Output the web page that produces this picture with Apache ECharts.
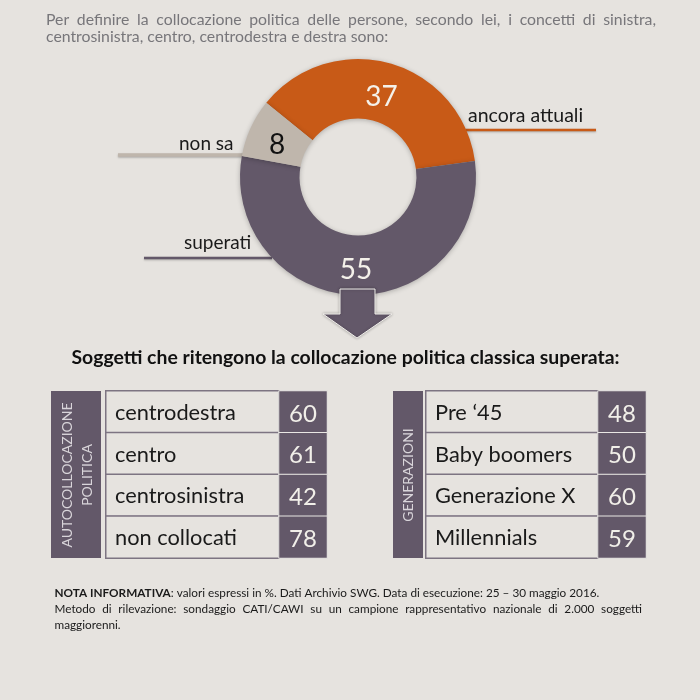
<!DOCTYPE html>
<html>
<head>
<meta charset="utf-8">
<script src="https://cdn.jsdelivr.net/npm/echarts@6/dist/echarts.min.js"></script>
<style>
html, body { margin: 0; padding: 0; background: #e6e3df; }
#main { width: 700px; height: 700px; }
</style>
</head>
<body>
<div id="main"></div>
<script>
// dati
var pieNames = ['ancora attuali', 'superati', 'non sa'];
var pieValues = [37, 55, 8];
var autoNames = ['centrodestra', 'centro', 'centrosinistra', 'non collocati'];
var autoValues = [60, 61, 42, 78];
var genNames = ['Pre ‘45', 'Baby boomers', 'Generazione X', 'Millennials'];
var genValues = [48, 50, 60, 59];
var questionLines = ['Per definire la collocazione politica delle persone, secondo lei, i concetti di sinistra,', 'centrosinistra, centro, centrodestra e destra sono:'];
var headline = 'Soggetti che ritengono la collocazione politica classica superata:';

var BG = '#e6e3df', ORANGE = '#c85a17', PURPLE = '#635869', TAUPE = '#bfb6ac', FONT = 'Lato';

var myChart = echarts.init(document.getElementById('main'));
var ctx = document.createElement('canvas').getContext('2d');

function txt(s, x, y, size, color, extra) {
    var style = { text: s, x: 0, y: 0, fill: color, fontFamily: FONT, fontSize: size, textVerticalAlign: 'middle', textAlign: 'left' };
    var el = { type: 'text', x: x, y: y, style: style, z: 20 };
    for (var k in extra) {
        if (k === 'rotation') el.rotation = extra[k]; else style[k] = extra[k];
    }
    return el;
}

// riga giustificata: una parola alla volta
function justified(s, x0, x1, y, size, color) {
    var words = s.split(' '), out = [];
    ctx.font = size + 'px ' + FONT;
    var total = 0;
    words.forEach(function (w) { total += ctx.measureText(w).width; });
    var gap = (x1 - x0 - total) / (words.length - 1), x = x0;
    words.forEach(function (w) {
        out.push(txt(w, x, y, size, color));
        x += ctx.measureText(w).width + gap;
    });
    return out;
}

function leader(x1, x2, y, color, w) {
    return { type: 'line', shape: { x1: x1, y1: y, x2: x2, y2: y }, style: { stroke: color, lineWidth: w, shadowBlur: 2, shadowColor: 'rgba(0,0,0,0.25)', shadowOffsetY: 1 }, z: 1 };
}

var graphic = [];
graphic = graphic.concat(justified(questionLines[0], 46, 656, 20, 15.8, '#77767a'));
graphic.push(txt(questionLines[1], 46, 37, 15.8, '#77767a'));

graphic.push(leader(466, 596, 130, ORANGE, 2.5));
graphic.push(leader(118, 243, 155, TAUPE, 3.5));
graphic.push(leader(144, 272, 258, PURPLE, 2.5));
graphic.push(txt(pieNames[0], 468, 116, 19.5, '#1a1a1a'));
graphic.push(txt(pieNames[2], 179, 144, 19, '#1a1a1a'));
graphic.push(txt(pieNames[1], 184, 243, 19, '#1a1a1a'));

// freccia sotto la ciambella
graphic.push({
    type: 'polygon', z: 10,
    shape: { points: [[340, 289], [375, 289], [375, 314], [392, 314], [357, 338], [323, 314], [340, 314]] },
    style: { fill: PURPLE, stroke: '#f2f0ec', lineWidth: 1, shadowBlur: 3, shadowColor: 'rgba(0,0,0,0.3)' }
});

graphic.push(txt(headline, 345.5, 358, 19.4, '#111', { fontWeight: 'bold', textAlign: 'center' }));

// bande laterali
graphic.push({ type: 'rect', shape: { x: 51, y: 391, width: 50, height: 167 }, style: { fill: PURPLE }, z: 5 });
graphic.push({ type: 'rect', shape: { x: 393, y: 391, width: 30, height: 167 }, style: { fill: PURPLE }, z: 5 });
graphic.push(txt('AUTOCOLLOCAZIONE', 67, 475, 14, '#d9d5da', { rotation: Math.PI / 2, textAlign: 'center' }));
graphic.push(txt('POLITICA', 87, 475, 14, '#d9d5da', { rotation: Math.PI / 2, textAlign: 'center' }));
graphic.push(txt('GENERAZIONI', 408, 475, 14, '#d9d5da', { rotation: Math.PI / 2, textAlign: 'center' }));

// nota
graphic.push(txt('NOTA INFORMATIVA', 54.5, 593, 11.75, '#1a1a1a', { fontWeight: 'bold' }));
ctx.font = 'bold 11.75px ' + FONT;
graphic.push(txt(': valori espressi in %. Dati Archivio SWG. Data di esecuzione: 25 – 30 maggio 2016.', 54.5 + ctx.measureText('NOTA INFORMATIVA').width, 593, 11.75, '#1a1a1a'));
graphic = graphic.concat(justified('Metodo di rilevazione: sondaggio CATI/CAWI su un campione rappresentativo nazionale di 2.000 soggetti', 54.5, 642, 609, 11.75, '#1a1a1a'));
graphic.push(txt('maggiorenni.', 54.5, 625, 11.75, '#1a1a1a'));

// griglie delle tabelle: 0/1 sinistra, 2/3 destra
var grids = [
    { left: 106, width: 173, top: 391, height: 167 },
    { left: 279, width: 48, top: 391, height: 167 },
    { left: 426, width: 172, top: 391, height: 167 },
    { left: 598, width: 48, top: 391, height: 167 }
];
var xAxes = grids.map(function (g, i) {
    return { type: 'category', gridIndex: i, data: [''], show: false };
});
var yAxes = grids.map(function (g, i) {
    return { type: 'category', gridIndex: i, data: i < 2 ? autoNames : genNames, inverse: true, show: false };
});

function nameCells(names, values, idx) {
    return {
        type: 'heatmap', xAxisIndex: idx, yAxisIndex: idx,
        data: values.map(function (v, i) { return [0, i, v]; }),
        itemStyle: { color: BG, borderColor: '#7d7482', borderWidth: 1.5 },
        label: {
            show: true, position: 'insideLeft', distance: 10, offset: [0, 1], fontFamily: FONT, fontSize: 21.8, color: '#1a1a1a',
            formatter: function (p) { return names[p.data[1]]; }
        },
        emphasis: { disabled: true }, z: 3
    };
}

function valueCells(values, idx) {
    return {
        type: 'heatmap', xAxisIndex: idx, yAxisIndex: idx,
        data: values.map(function (v, i) { return [0, i, v]; }),
        itemStyle: { color: PURPLE, borderColor: '#e9e7e4', borderWidth: 1 },
        label: {
            show: true, offset: [0, 2], fontFamily: FONT, fontSize: 24, color: '#f1efe9',
            formatter: function (p) { return p.data[2]; }
        },
        emphasis: { disabled: true }, z: 4
    };
}

var pieOffsets = [[-1, 8], [0, 2], [2, 6]];

var option = {
    backgroundColor: BG,
    animation: false,
    tooltip: { show: false },
    grid: grids,
    xAxis: xAxes,
    yAxis: yAxes,
    graphic: graphic,
    series: [{
        type: 'pie',
        center: [358, 177],
        radius: [58.5, 118],
        startAngle: 141,
        clockwise: true,
        silent: true,
        z: 5,
        data: pieNames.map(function (n, i) {
            return { name: n, value: pieValues[i], itemStyle: { color: [ORANGE, PURPLE, TAUPE][i] }, label: { color: i === 2 ? '#111' : '#f4f1ea', offset: pieOffsets[i] } };
        }),
        itemStyle: { shadowBlur: 5, shadowColor: 'rgba(0,0,0,0.25)', shadowOffsetY: 1 },
        label: { position: 'inside', formatter: '{c}', fontFamily: FONT, fontSize: 28 },
        labelLine: { show: false }
    },
    nameCells(autoNames, autoValues, 0),
    valueCells(autoValues, 1),
    nameCells(genNames, genValues, 2),
    valueCells(genValues, 3)]
};

myChart.setOption(option);
</script>
</body>
</html>
